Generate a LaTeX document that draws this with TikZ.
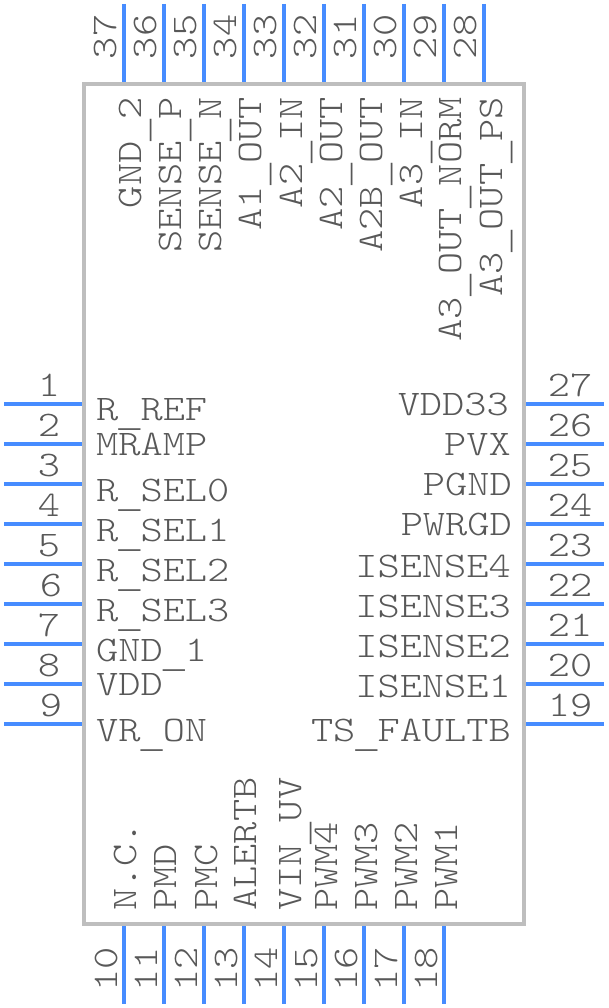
\documentclass[tikz,border=0pt]{standalone}
\usepackage{fontspec}
\newfontfamily\pinfont[FakeStretch=1.175]{Latin Modern Mono Light}
\newfontfamily\barfont{Liberation Mono}
\newcommand{\pinbar}{\raisebox{-6.5pt}{\barfont\fontsize{36.9}{36}\selectfont\_}}
\definecolor{pinblue}{RGB}{70,140,255}
\definecolor{bodygray}{RGB}{190,190,190}
\definecolor{textgray}{RGB}{88,88,88}
\tikzset{
  pinline/.style={line width=4pt, pinblue},
  pintext/.style={inner sep=0pt, textgray, font=\pinfont\fontsize{36}{36}\selectfont},
  leftname/.style={pintext, anchor=base west},
  rightname/.style={pintext, anchor=base east},
  topname/.style={pintext, anchor=base east, rotate=90},
  botname/.style={pintext, anchor=base west, rotate=90},
  sidenum/.style={pintext, anchor=base},
  vertnum/.style={pintext, anchor=base, rotate=90},
}
\begin{document}
\begin{tikzpicture}[x=1pt, y=-1pt]
            \useasboundingbox (0,0) rectangle (608,1008);
            % left pins
            \draw[pinline] (4,404) -- (84,404); \node (num1) [sidenum] at (49,396) {1};
            \draw[pinline] (4,444) -- (84,444); \node (num2) [sidenum] at (49,436) {2};
            \draw[pinline] (4,484) -- (84,484); \node (num3) [sidenum] at (49,476) {3};
            \draw[pinline] (4,524) -- (84,524); \node (num4) [sidenum] at (49,516) {4};
            \draw[pinline] (4,564) -- (84,564); \node (num5) [sidenum] at (49,556) {5};
            \draw[pinline] (4,604) -- (84,604); \node (num6) [sidenum] at (51,596) {6};
            \draw[pinline] (4,644) -- (84,644); \node (num7) [sidenum] at (49,636) {7};
            \draw[pinline] (4,684) -- (84,684); \node (num8) [sidenum] at (49,676) {8};
            \draw[pinline] (4,724) -- (84,724); \node (num9) [sidenum] at (51,716) {9};
            % bottom pins
            \draw[pinline] (124,924) -- (124,1004); \node (num10) [vertnum] at (117,969) {10};
            \draw[pinline] (164,924) -- (164,1004); \node (num11) [vertnum] at (157,969) {11};
            \draw[pinline] (204,924) -- (204,1004); \node (num12) [vertnum] at (197,969) {12};
            \draw[pinline] (244,924) -- (244,1004); \node (num13) [vertnum] at (237,969) {13};
            \draw[pinline] (284,924) -- (284,1004); \node (num14) [vertnum] at (277,969) {14};
            \draw[pinline] (324,924) -- (324,1004); \node (num15) [vertnum] at (317,969) {15};
            \draw[pinline] (364,924) -- (364,1004); \node (num16) [vertnum] at (357,969) {16};
            \draw[pinline] (404,924) -- (404,1004); \node (num17) [vertnum] at (397,969) {17};
            \draw[pinline] (444,924) -- (444,1004); \node (num18) [vertnum] at (437,969) {18};
            % right pins
            \draw[pinline] (524,724) -- (604,724); \node (num19) [sidenum] at (570,716) {19};
            \draw[pinline] (524,684) -- (604,684); \node (num20) [sidenum] at (570,676) {20};
            \draw[pinline] (524,644) -- (604,644); \node (num21) [sidenum] at (570,636) {21};
            \draw[pinline] (524,604) -- (604,604); \node (num22) [sidenum] at (570,596) {22};
            \draw[pinline] (524,564) -- (604,564); \node (num23) [sidenum] at (570,556) {23};
            \draw[pinline] (524,524) -- (604,524); \node (num24) [sidenum] at (570,516) {24};
            \draw[pinline] (524,484) -- (604,484); \node (num25) [sidenum] at (570,476) {25};
            \draw[pinline] (524,444) -- (604,444); \node (num26) [sidenum] at (570,436) {26};
            \draw[pinline] (524,404) -- (604,404); \node (num27) [sidenum] at (570,396) {27};
            % top pins
            \draw[pinline] (484,4) -- (484,84); \node (num28) [vertnum] at (476,37) {28};
            \draw[pinline] (444,4) -- (444,84); \node (num29) [vertnum] at (436,37) {29};
            \draw[pinline] (404,4) -- (404,84); \node (num30) [vertnum] at (396,37) {30};
            \draw[pinline] (364,4) -- (364,84); \node (num31) [vertnum] at (356,37) {31};
            \draw[pinline] (324,4) -- (324,84); \node (num32) [vertnum] at (316,37) {32};
            \draw[pinline] (284,4) -- (284,84); \node (num33) [vertnum] at (276,37) {33};
            \draw[pinline] (244,4) -- (244,84); \node (num34) [vertnum] at (236,37) {34};
            \draw[pinline] (204,4) -- (204,84); \node (num35) [vertnum] at (196,37) {35};
            \draw[pinline] (164,4) -- (164,84); \node (num36) [vertnum] at (156,37) {36};
            \draw[pinline] (124,4) -- (124,84); \node (num37) [vertnum] at (116,37) {37};
            % body
            \draw[line width=4pt, bodygray] (84,84) rectangle (524,924);
            % names on the left
            \node (rref) [leftname] at (96,420) {R\pinbar REF};
            \node (mramp) [leftname] at (96,455) {MRAMP};
            \node (rsel0) [leftname] at (96,501) {R\pinbar SEL0};
            \node (rsel1) [leftname] at (96,541) {R\pinbar SEL1};
            \node (rsel2) [leftname] at (96,581) {R\pinbar SEL2};
            \node (rsel3) [leftname] at (96,621) {R\pinbar SEL3};
            \node (gnd1) [leftname] at (96,661) {GND\pinbar 1};
            \node (vdd) [leftname] at (96,695) {VDD};
            \node (vron) [leftname] at (96,741) {VR\pinbar ON};
            % names on the right
            \node (vdd33) [rightname] at (509,415) {VDD33};
            \node (pvx) [rightname] at (511,455) {PVX};
            \node (pgnd) [rightname] at (512,495) {PGND};
            \node (pwrgd) [rightname] at (512,535) {PWRGD};
            \node (isense4) [rightname] at (511,577) {ISENSE4};
            \node (isense3) [rightname] at (511,617) {ISENSE3};
            \node (isense2) [rightname] at (511,657) {ISENSE2};
            \node (isense1) [rightname] at (511,697) {ISENSE1};
            \node (tsfaultb) [rightname] at (511,741) {TS\pinbar FAULTB};
            % names along the bottom
            \node (nc) [botname] at (136,911) {N.C.};
            \node (pmd) [botname] at (176,911) {PMD};
            \node (pmc) [botname] at (217,911) {PMC};
            \node (alertb) [botname] at (256,911) {ALERTB};
            \node (vinuv) [botname] at (301,911) {VIN\pinbar UV};
            \node (pwm4) [botname] at (337,911) {PWM4};
            \node (pwm3) [botname] at (377,911) {PWM3};
            \node (pwm2) [botname] at (417,911) {PWM2};
            \node (pwm1) [botname] at (457,911) {PWM1};
            % names along the top
            \node (gnd2) [topname] at (141,97) {GND\pinbar 2};
            \node (sensep) [topname] at (181,97) {SENSE\pinbar P};
            \node (sensen) [topname] at (221,97) {SENSE\pinbar N};
            \node (a1out) [topname] at (261,97) {A1\pinbar OUT};
            \node (a2in) [topname] at (302,97) {A2\pinbar IN};
            \node (a2out) [topname] at (342,97) {A2\pinbar OUT};
            \node (a2bout) [topname] at (382,97) {A2B\pinbar OUT};
            \node (a3in) [topname] at (422,97) {A3\pinbar IN};
            \node (a3outnorm) [topname] at (461,97) {A3\pinbar OUT\pinbar NORM};
            \node (a3outps) [topname] at (502,97) {A3\pinbar OUT\pinbar PS};
\end{tikzpicture}
\end{document}
